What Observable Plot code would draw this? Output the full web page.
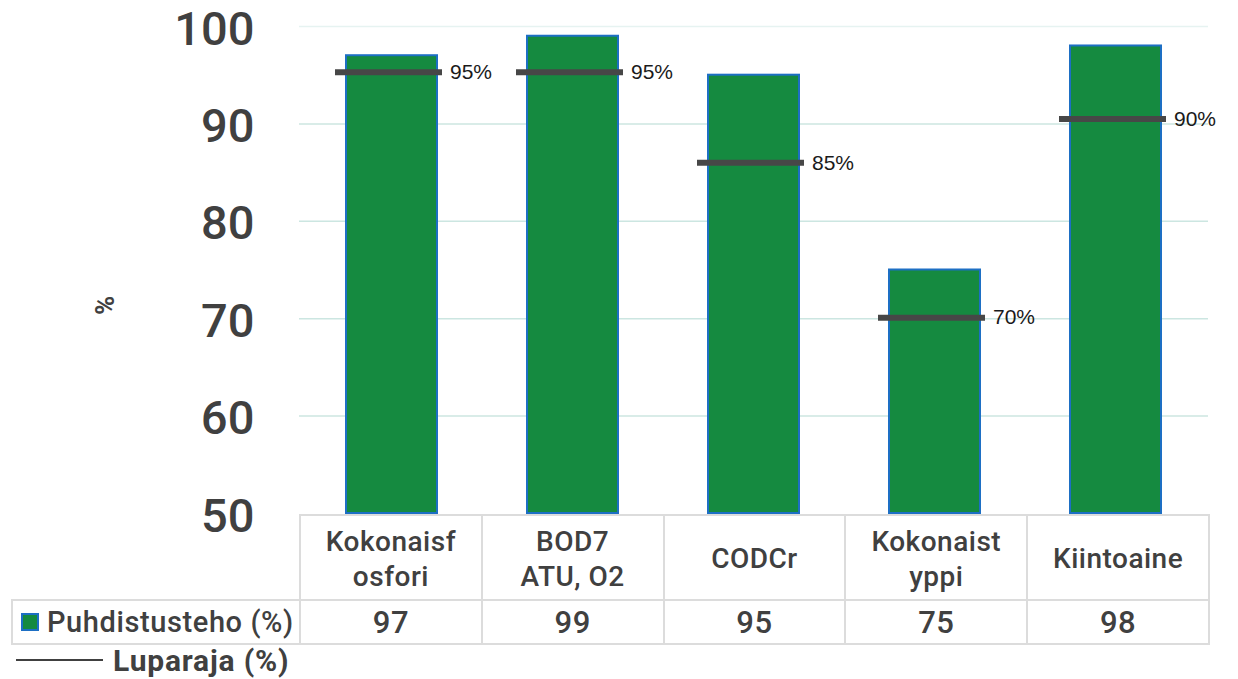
<!DOCTYPE html>
<html>
<head>
<meta charset="utf-8">
<script src="https://cdn.jsdelivr.net/npm/d3@7"></script>
<script src="https://cdn.jsdelivr.net/npm/@observablehq/plot@0.6"></script>
<style>
  body { margin: 0; background: #fff; }
  #wrap { position: relative; width: 1238px; height: 679px; overflow: hidden; font-family: Roboto, "Open Sans", sans-serif; color: #404040; }
  #wrap svg { position: absolute; left: 0; top: 0; }
  table { position: absolute; left: 11px; top: 514px; border-collapse: collapse; table-layout: fixed; }
  td { border: 2px solid #dcdcdc; text-align: center; padding: 0; font-weight: 500; color: #404040; }
  tr.head td { height: 81px; font-size: 28px; line-height: 35px; padding-top: 2px; letter-spacing: 0.5px; }
  tr.head td.blank { border-top: none; border-left: none; }
  tr.vals td { height: 42px; font-size: 31px; letter-spacing: 0.5px; }
  tr.vals td.name { text-align: left; font-size: 29px; padding-left: 8px; letter-spacing: 0.6px; white-space: nowrap; }
  .sw { display: inline-block; width: 14px; height: 14px; background: #158a40; border: 2px solid #1d6fc4; margin-right: 8px; vertical-align: 1px; }
  #leg2 { position: absolute; left: 16px; top: 641px; height: 38px; display: flex; align-items: center; font-size: 30px; font-weight: 700; letter-spacing: 0.8px; }
  #leg2 .ln { width: 87px; height: 2px; background: #404040; margin-right: 10px; }
</style>
</head>
<body>
<div id="wrap"></div>
<script>
// ---- data ----
const categories = ["Kokonaisfosfori", "BOD7 ATU, O2", "CODCr", "Kokonaistyppi", "Kiintoaine"];
const headerLines = [["Kokonaisf", "osfori"], ["BOD7", "ATU, O2"], ["CODCr"], ["Kokonaist", "yppi"], ["Kiintoaine"]];
const puhdistusteho = [97, 99, 95, 75, 98];
const luparaja = [95.3, 95.3, 86.0, 70.1, 90.5];
const luparajaLabels = ["95%", "95%", "85%", "70%", "90%"];
const yTicks = [50, 60, 70, 80, 90, 100];
const gridTicks = [60, 70, 80, 90];
const gridTop = [100];
const seriesName1 = "Puhdistusteho (%)";
const seriesName2 = "Luparaja (%)";
const yLabel = "%";

const data = categories.map((c, i) => ({cat: c, value: puhdistusteho[i], limit: luparaja[i], label: luparajaLabels[i]}));

const chart = Plot.plot({
  width: 1238,
  height: 514,
  marginLeft: 299,
  marginRight: 30,
  marginTop: 26,
  marginBottom: 1,
  style: {fontFamily: "Roboto", background: "transparent", overflow: "visible"},
  x: {domain: categories, paddingInner: 0.5, paddingOuter: 0.25, axis: null},
  y: {domain: [50, 100], axis: null},
  marks: [
    Plot.ruleY(gridTop, {stroke: "#e6f3f1", strokeWidth: 1.5}),
    Plot.ruleY(gridTicks, {stroke: "#cce6e1", strokeWidth: 1.5}),
    Plot.barY(data, {x: "cat", y1: 50, y2: "value", fill: "#158a40", stroke: "#1d6fc4", strokeWidth: 2}),
    Plot.tickY(data, {x: "cat", y: "limit", stroke: "#474747", strokeWidth: 6, insetLeft: -11, insetRight: -5}),
    Plot.text(data, {x: "cat", y: "limit", text: "label", dx: 58, textAnchor: "start", fontSize: 21, fontFamily: "Liberation Sans", fill: "#1a1a1a"}),
    Plot.axisY({ticks: yTicks, tickSize: 0, tickPadding: 45, fontSize: 47, fontWeight: 500, fill: "#404040", label: null, dy: 3, style: {letterSpacing: "1px"}}),
    Plot.text([yLabel], {frameAnchor: "left", dx: -194, dy: 45, rotate: -90, fontSize: 26, fontWeight: 700, fill: "#404040"})
  ]
});

const wrap = document.getElementById("wrap");
wrap.appendChild(chart);

// data table below the chart
const table = document.createElement("table");
const colgroup = document.createElement("colgroup");
const c0 = document.createElement("col"); c0.style.width = "288px"; colgroup.appendChild(c0);
categories.forEach(() => { const c = document.createElement("col"); c.style.width = "181.8px"; colgroup.appendChild(c); });
table.appendChild(colgroup);

const head = document.createElement("tr"); head.className = "head";
const blank = document.createElement("td"); blank.className = "blank"; head.appendChild(blank);
headerLines.forEach(lines => {
  const td = document.createElement("td");
  td.innerHTML = lines.join("<br>");
  head.appendChild(td);
});
table.appendChild(head);

const vals = document.createElement("tr"); vals.className = "vals";
const nm = document.createElement("td"); nm.className = "name";
nm.innerHTML = '<span class="sw"></span>' + seriesName1;
vals.appendChild(nm);
puhdistusteho.forEach(v => { const td = document.createElement("td"); td.textContent = v; vals.appendChild(td); });
table.appendChild(vals);
wrap.appendChild(table);

const leg2 = document.createElement("div"); leg2.id = "leg2";
leg2.innerHTML = '<span class="ln"></span>' + seriesName2;
wrap.appendChild(leg2);
</script>
</body>
</html>
